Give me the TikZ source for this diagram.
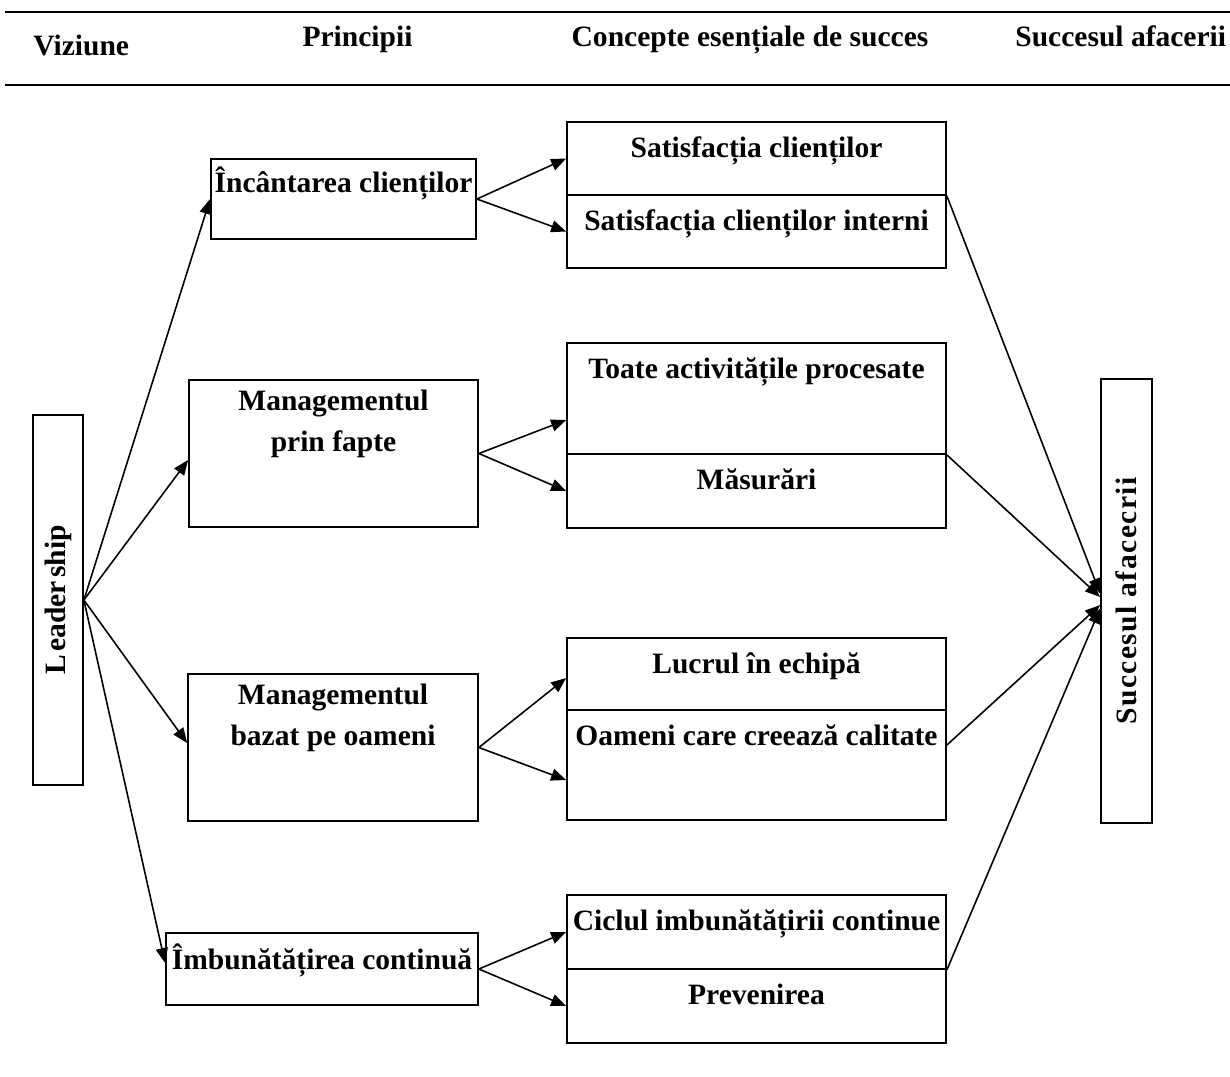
\documentclass[tikz,border=0pt]{standalone}
\usepackage{fontspec}
\setmainfont{Liberation Serif}
\usetikzlibrary{arrows.meta}

\begin{document}
\begin{tikzpicture}[every node/.style={font=\bfseries\fontsize{16.8}{23}\selectfont},
    box/.style={draw, line width=1pt, inner sep=0pt},
    cell/.style={box, minimum width=7.58cm},
    lbl/.style={inner sep=0pt, anchor=north, text height=0.69em, text depth=0.22em},
    lbltwo/.style={inner sep=0pt, anchor=north, align=center},
    hd/.style={inner sep=0pt},
    arr/.style={line width=0.9pt, -{Triangle[length=0.3cm, width=0.24cm]}}]
    \useasboundingbox (0,0) rectangle (24.6,-21.52);
    % header
    \draw[line width=1.4pt] (0.1,-0.24) -- (24.6,-0.24);
    \draw[line width=1.4pt] (0.1,-1.70) -- (24.6,-1.70);
    \node[hd, anchor=base west] (h1) at (0.66,-1.1) {Viziune};
    \node[hd, anchor=base] (h2) at (7.15,-0.92) {Principii};
    \node[hd, anchor=base] (h3) at (15.0,-0.92) {Concepte esențiale de succes};
    \node[hd, anchor=base west] (h4) at (20.3,-0.92) {Succesul afacerii};
    % leadership and success
    \node[box, minimum width=1.0cm, minimum height=7.4cm] (L) at (1.16,-12.0) {};
    \node[rotate=90, inner sep=0pt] (Lt) at (L) {L\hspace{0.12em}eader\hspace{0.12em}ship};
    \node[box, minimum width=1.02cm, minimum height=8.88cm] (S) at (22.53,-12.02) {};
    \node[rotate=90, inner sep=0pt] (St) at (S) {\addfontfeature{LetterSpace=5}Succesul afacecrii};
    % principles
    \node[box, minimum width=5.3cm, minimum height=1.6cm] (p1) at (6.87,-3.98) {};
    \node[box, minimum width=5.78cm, minimum height=2.94cm] (p2) at (6.67,-9.07) {};
    \node[box, minimum width=5.8cm, minimum height=2.94cm] (p3) at (6.66,-14.95) {};
    \node[box, minimum width=6.24cm, minimum height=1.44cm] (p4) at (6.44,-19.38) {};
    \node[lbl] (p1t) at ([yshift=-0.44cm]p1.north) {Încântarea clienților};
    \node[lbltwo] (p2t) at ([yshift=-0.22cm]p2.north) {Managementul\\prin fapte};
    \node[lbltwo] (p3t) at ([yshift=-0.22cm]p3.north) {Managementul\\bazat pe oameni};
    \node[lbl] (p4t) at ([yshift=-0.5cm]p4.north) {Îmbunătățirea continuă};
    % concepts
    \node[cell, minimum height=1.46cm] (c1a) at (15.13,-3.17) {};
    \node[cell, minimum height=1.46cm] (c1b) at (15.13,-4.63) {};
    \node[cell, minimum height=2.22cm] (c2a) at (15.13,-7.97) {};
    \node[cell, minimum height=1.48cm] (c2b) at (15.13,-9.82) {};
    \node[cell, minimum height=1.44cm] (c3a) at (15.13,-13.48) {};
    \node[cell, minimum height=2.2cm] (c3b) at (15.13,-15.3) {};
    \node[cell, minimum height=1.48cm] (c4a) at (15.13,-18.64) {};
    \node[cell, minimum height=1.48cm] (c4b) at (15.13,-20.12) {};
    \node[lbl] (c1at) at ([yshift=-0.48cm]c1a.north) {Satisfacția clienților};
    \node[lbl] (c1bt) at ([yshift=-0.48cm]c1b.north) {Satisfacția clienților interni};
    \node[lbl] (c2at) at ([yshift=-0.48cm]c2a.north) {Toate activitățile procesate};
    \node[lbl] (c2bt) at ([yshift=-0.48cm]c2b.north) {Măsurări};
    \node[lbl] (c3at) at ([yshift=-0.48cm]c3a.north) {Lucrul în echipă};
    \node[lbl] (c3bt) at ([yshift=-0.48cm]c3b.north) {Oameni care creează calitate};
    \node[lbl] (c4at) at ([yshift=-0.48cm]c4a.north) {Ciclul imbunătățirii continue};
    \node[lbl] (c4bt) at ([yshift=-0.48cm]c4b.north) {Prevenirea};
    % connectors
    \draw[arr] (L.east) -- (p1.west);
    \draw[arr] (L.east) -- ([yshift=-0.13cm]p2.west);
    \draw[arr] (L.east) -- ([yshift=0.09cm]p3.west);
    \draw[arr] (L.east) -- ([yshift=0.12cm]p4.west);
    \draw[arr] (p1.east) -- (c1a.west);
    \draw[arr] (p1.east) -- (c1b.west);
    \draw[arr] (p2.east) -- ([yshift=-0.43cm]c2a.west);
    \draw[arr] (p2.east) -- (c2b.west);
    \draw[arr] (p3.east) -- ([yshift=-0.08cm]c3a.west);
    \draw[arr] (p3.east) -- ([yshift=-0.3cm]c3b.west);
    \draw[arr] (p4.east) -- (c4a.west);
    \draw[arr] (p4.east) -- (c4b.west);
    \draw[arr] (c1a.south east) -- ([yshift=0.15cm]S.west);
    \draw[arr] (c2a.south east) -- ([yshift=0.08cm]S.west);
    \draw[arr] ([yshift=0.4cm]c3b.east) -- ([yshift=-0.08cm]S.west);
    \draw[arr] (c4a.south east) -- ([yshift=-0.15cm]S.west);
\end{tikzpicture}
\end{document}
